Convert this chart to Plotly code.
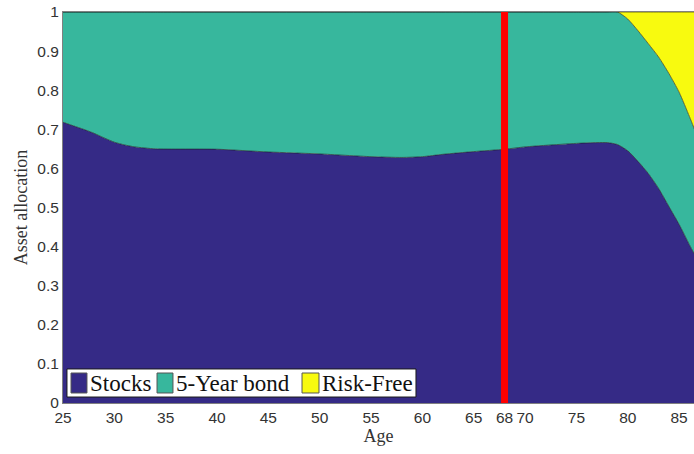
import plotly.graph_objects as go

# Life-cycle asset allocation by age
ages = [25, 26, 27, 28, 29, 30, 31, 32, 34, 40, 45, 50, 55, 58, 60, 62, 65, 68,
        70, 72, 75, 77, 78, 79, 80, 81, 82, 83, 84, 85, 86, 86.5]
stocks = [0.718, 0.709, 0.700, 0.690, 0.678, 0.667, 0.660, 0.655, 0.650, 0.649,
          0.642, 0.637, 0.630, 0.628, 0.630, 0.636, 0.643, 0.649, 0.655, 0.659,
          0.664, 0.666, 0.666, 0.661, 0.645, 0.618, 0.587, 0.549, 0.503, 0.457,
          0.405, 0.380]
bonds = [0.282, 0.291, 0.300, 0.310, 0.322, 0.333, 0.340, 0.345, 0.350, 0.351,
         0.358, 0.363, 0.370, 0.372, 0.370, 0.364, 0.357, 0.351, 0.345, 0.341,
         0.336, 0.334, 0.334, 0.339, 0.337, 0.334, 0.332, 0.336, 0.340, 0.338,
         0.328, 0.320]
risk_free = [0, 0, 0, 0, 0, 0, 0, 0, 0, 0, 0, 0, 0, 0, 0, 0, 0, 0,
             0, 0, 0, 0, 0, 0, 0.018, 0.048, 0.081, 0.115, 0.157, 0.205, 0.267,
             0.300]

retirement_age = 68
x_ticks = [25, 30, 35, 40, 45, 50, 55, 60, 65, 68, 70, 75, 80, 85]
y_ticks = [0, 0.1, 0.2, 0.3, 0.4, 0.5, 0.6, 0.7, 0.8, 0.9, 1]
y_tick_text = ["0", "0.1", "0.2", "0.3", "0.4", "0.5", "0.6", "0.7", "0.8", "0.9", "1"]

series = [
    ("Stocks", stocks, "#352a86"),
    ("5-Year bond", bonds, "#37b79d"),
    ("Risk-Free", risk_free, "#f8fa0f"),
]

serif = "Liberation Serif, DejaVu Serif, serif"
sans = "Liberation Sans, Arial, sans-serif"
edge = "#1a1a1a"

fig = go.Figure()
for name, vals, color in series:
    fig.add_trace(go.Scatter(
        x=ages, y=vals, name=name, stackgroup="alloc", mode="lines",
        line=dict(color=edge, width=0.6, shape="spline", smoothing=0.6),
        fillcolor=color, showlegend=False,
    ))

# retirement marker
fig.add_shape(type="line", x0=retirement_age, x1=retirement_age, y0=0, y1=1,
              xref="x", yref="y", line=dict(color="#ff0000", width=7))

# boxed legend in the lower-left corner (patch swatch + label per series)
legend_box = dict(x0=0.0063, x1=0.5594, y0=0.0153, y1=0.087)
swatch_y = (0.0256, 0.0767)
swatch_x = [(0.0127, 0.0380), (0.1490, 0.1743), (0.3788, 0.4057)]
label_x = [0.0395, 0.1760, 0.4072]
label_y = 0.0505

fig.add_shape(type="rect", xref="paper", yref="paper", **legend_box,
              fillcolor="white", line=dict(color=edge, width=1))
for (name, _, color), (sx0, sx1), lx in zip(series, swatch_x, label_x):
    fig.add_shape(type="rect", xref="paper", yref="paper",
                  x0=sx0, x1=sx1, y0=swatch_y[0], y1=swatch_y[1],
                  fillcolor=color, line=dict(color="#555555", width=1))
    fig.add_annotation(x=lx, y=label_y, xref="paper", yref="paper",
                       text=name, showarrow=False, xanchor="left",
                       yanchor="middle",
                       font=dict(family=serif, size=23, color="#111111"))

fig.update_layout(
    width=694, height=454,
    margin=dict(l=63, r=0, t=12, b=51),
    paper_bgcolor="white", plot_bgcolor="white",
    showlegend=False,
    xaxis=dict(
        range=[25, 86.45], tickvals=x_ticks, ticktext=[str(t) for t in x_ticks],
        showgrid=False, zeroline=False, showline=True, linecolor="#808080",
        linewidth=1, mirror=True, ticks="",
        tickfont=dict(family=sans, size=15.5, color="#333333"),
        title=dict(text="Age", font=dict(family=serif, size=18, color="#333333"),
                   standoff=3),
    ),
    yaxis=dict(
        range=[0, 1], tickvals=y_ticks, ticktext=y_tick_text,
        showgrid=False, zeroline=False, showline=True, linecolor="#808080",
        linewidth=1, mirror=True, ticks="",
        tickfont=dict(family=sans, size=15.5, color="#333333"),
        title=dict(text="Asset allocation",
                   font=dict(family=serif, size=18, color="#333333"), standoff=5),
    ),
)

fig.write_html("out.html")
